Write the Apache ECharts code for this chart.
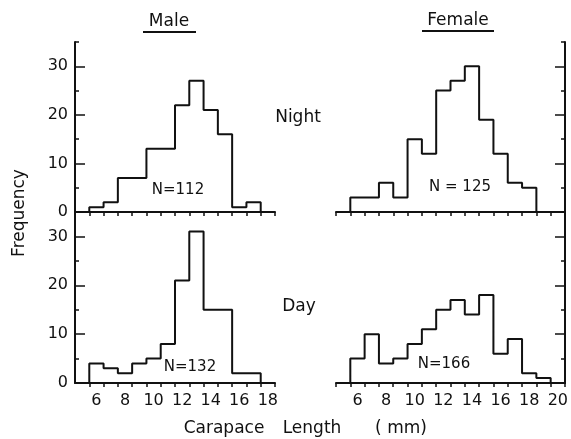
<!DOCTYPE html>
<html>
<head>
<meta charset="utf-8">
<script src="https://cdn.jsdelivr.net/npm/echarts@6/dist/echarts.min.js"></script>
<style>
html,body{margin:0;padding:0;background:#fff}
#main{width:571px;height:439px}
</style>
</head>
<body>
<div id="main"></div>
<script>
// bin edges (mm) and counts; some bins are 2 mm wide
var maleNightEdges=[5.5,6.5,7.5,9.5,11.5,12.5,13.5,14.5,15.5,16.5,17.5];
var maleNightCounts=[1,2,7,13,22,27,21,16,1,2];
var femaleNightEdges=[5.5,7.5,8.5,9.5,10.5,11.5,12.5,13.5,14.5,15.5,16.5,17.5,18.5];
var femaleNightCounts=[3,6,3,15,12,25,27,30,19,12,6,5];
var maleDayEdges=[5.5,6.5,7.5,8.5,9.5,10.5,11.5,12.5,13.5,15.5,17.5];
var maleDayCounts=[4,3,2,4,5,8,21,31,15,2];
var femaleDayEdges=[5.5,6.5,7.5,8.5,9.5,10.5,11.5,12.5,13.5,14.5,15.5,16.5,17.5,18.5,19.5];
var femaleDayCounts=[5,10,4,5,8,11,15,17,14,18,6,9,2,1];

var maleTicks=[5.5,6.5,7.5,8.5,9.5,10.5,11.5,12.5,13.5,14.5,15.5,16.5,17.5,18.5];
var femaleTicks=[4.5,5.5,6.5,7.5,8.5,9.5,10.5,11.5,12.5,13.5,14.5,15.5,16.5,17.5,18.5,19.5,20.5];
var maleLabels=[6,8,10,12,14,16,18];
var femaleLabels=[6,8,10,12,14,16,18,20];
var freqLabels=[0,10,20,30];
var freqMinor=[5,15,25,35];

var FONT='DejaVu Sans';
var INK='#111';

function outline(edges,counts){
    var pts=[[edges[0],0]];
    counts.forEach(function(c,i){ pts.push([edges[i],c]); });
    pts.push([edges[edges.length-1],0]);
    return pts;
}

function xAx(g,max,ticks,labels){
    return {
        type:'value',gridIndex:g,min:4.5,max:max,
        axisLine:{lineStyle:{color:INK,width:2}},
        axisTick:{customValues:ticks,length:4,lineStyle:{color:INK,width:1.5}},
        axisLabel:{show:!!labels,customValues:labels||[],margin:10,color:INK,fontSize:16,fontFamily:FONT},
        splitLine:{show:false}
    };
}
function yAxes(g,side){
    return [{
        type:'value',gridIndex:g,min:0,max:35,position:side,
        axisLine:{show:true,lineStyle:{color:INK,width:2}},
        axisTick:{inside:true,length:10,customValues:[10,20,30],lineStyle:{color:INK,width:1.5}},
        axisLabel:{show:side==='left',customValues:freqLabels,margin:7,color:INK,fontSize:16,fontFamily:FONT},
        splitLine:{show:false}
    },{
        type:'value',gridIndex:g,min:0,max:35,position:side,
        axisLine:{show:false},
        axisTick:{inside:true,length:4,customValues:freqMinor,lineStyle:{color:INK,width:1.5}},
        axisLabel:{show:false},
        splitLine:{show:false}
    }];
}
function hist(g,edges,counts){
    return {
        type:'line',xAxisIndex:g,yAxisIndex:g*2,step:'end',symbol:'none',silent:true,
        lineStyle:{color:INK,width:2},
        data:outline(edges,counts)
    };
}
function txt(x,y,s,size,rot){
    return {type:'text',x:x,y:y,rotation:rot||0,silent:true,
        style:{text:s,fill:INK,font:(size||16)+'px "'+FONT+'"',textAlign:'center',textVerticalAlign:'middle'}};
}
function uline(x1,x2,y){
    return {type:'line',silent:true,shape:{x1:x1,y1:y,x2:x2,y2:y},style:{stroke:INK,lineWidth:2}};
}

var chart=echarts.init(document.getElementById('main'));
chart.setOption({
    animation:false,
    grid:[
        {left:75,top:42,width:200,height:170},
        {left:336,top:42,width:229,height:170},
        {left:75,top:212,width:200,height:171},
        {left:336,top:212,width:229,height:171}
    ],
    xAxis:[
        xAx(0,18.5,maleTicks,null),
        xAx(1,20.5,femaleTicks,null),
        xAx(2,18.5,maleTicks,maleLabels),
        xAx(3,20.5,femaleTicks,femaleLabels)
    ],
    yAxis:[].concat(yAxes(0,'left'),yAxes(1,'right'),yAxes(2,'left'),yAxes(3,'right')),
    series:[
        hist(0,maleNightEdges,maleNightCounts),
        hist(1,femaleNightEdges,femaleNightCounts),
        hist(2,maleDayEdges,maleDayCounts),
        hist(3,femaleDayEdges,femaleDayCounts)
    ],
    graphic:[
        txt(169,22,'Male',17),
        uline(143,196,32),
        txt(458,21,'Female',17),
        uline(422,494,31),
        txt(298,118,'Night',17),
        txt(299,307,'Day',17),
        txt(20,213,'Frequency',17,Math.PI/2),
        txt(224,429,'Carapace',17),
        txt(312,429,'Length',17),
        txt(401,429,'( mm)',17),
        txt(178,190,'N=112',15),
        txt(460,187,'N = 125',15),
        txt(190,367,'N=132',15),
        txt(444,364,'N=166',15)
    ]
});
</script>
</body>
</html>
